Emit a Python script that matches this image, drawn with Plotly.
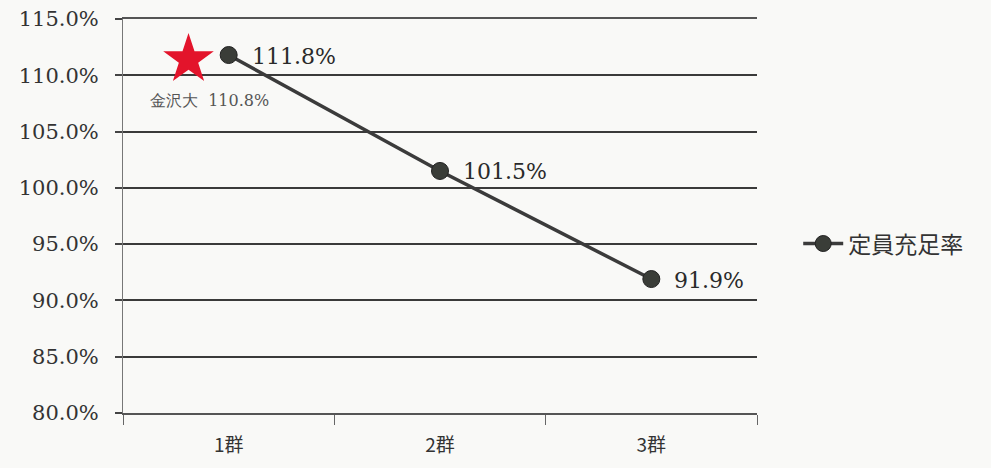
import plotly.graph_objects as go

categories = ["1群", "2群", "3群"]
rates = [111.8, 101.5, 91.9]
rate_labels = ["111.8%", "101.5%", "91.9%"]
series_name = "定員充足率"
kanazawa_label = "金沢大  110.8%"
kanazawa_star_x = -0.19
kanazawa_star_y = 111.4
y_ticks = [80, 85, 90, 95, 100, 105, 110, 115]
y_tick_labels = [f"{v:.1f}%" for v in y_ticks]

serif = "DejaVu Serif, Liberation Serif, serif"
cjk = "Noto Sans CJK JP, Noto Sans, sans-serif"
line_col = "#3b3b3b"
bg = "#f9f9f7"

fig = go.Figure()

fig.add_trace(go.Scatter(
    x=list(range(len(categories))), y=rates, mode="lines+markers",
    name=series_name,
    line=dict(color=line_col, width=3.5),
    marker=dict(size=17, color="#3a3d38", line=dict(color="#222", width=1)),
))

fig.add_trace(go.Scatter(
    x=[kanazawa_star_x], y=[kanazawa_star_y], mode="markers",
    marker=dict(symbol="star", size=38, color="#e3142b", line=dict(width=0)),
    showlegend=False, hoverinfo="skip",
))

for i, (v, t) in enumerate(zip(rates, rate_labels)):
    fig.add_annotation(x=i, y=v, text=t, showarrow=False, xanchor="left",
                       yanchor="middle", xshift=21, yshift=-1,
                       font=dict(family=serif, size=22, color="#2a2a2a"))

fig.add_annotation(x=kanazawa_star_x, y=kanazawa_star_y, text=kanazawa_label,
                   showarrow=False, xanchor="center", yanchor="middle",
                   xshift=21, yshift=-41,
                   font=dict(family=serif, size=16, color="#555"))

fig.update_layout(
    width=991, height=468,
    margin=dict(l=123, r=234, t=19, b=55),
    paper_bgcolor=bg, plot_bgcolor=bg,
    showlegend=True,
    legend=dict(x=1.065, y=0.43, xanchor="left", yanchor="middle",
                font=dict(family=cjk, size=23, color="#333"),
                bgcolor="rgba(0,0,0,0)", itemwidth=40),
    xaxis=dict(
        range=[-0.5, 2.5], automargin=False,
        tickvals=list(range(len(categories))), ticktext=categories,
        ticks="", showgrid=False, zeroline=False,
        showline=True, linecolor="#555", linewidth=1.5, mirror=True,
        tickfont=dict(family=cjk, size=19, color="#333"),
        ticklabelstandoff=14,
        minor=dict(tickvals=[-0.5, 0.5, 1.5, 2.5], ticks="outside",
                   ticklen=10, tickcolor="#666", tickwidth=1, showgrid=False),
    ),
    yaxis=dict(
        range=[80, 115], tickvals=y_ticks, ticktext=y_tick_labels,
        automargin=False,
        ticks="outside", ticklen=7, tickcolor="#444", tickwidth=1.5,
        showgrid=True, gridcolor="#3a3a3a", gridwidth=1.5,
        showline=True, linecolor="#777", linewidth=1,
        zeroline=False,
        tickfont=dict(family=serif, size=21, color="#333"),
        ticklabelstandoff=12,
    ),
)

fig.write_html("out.html")
